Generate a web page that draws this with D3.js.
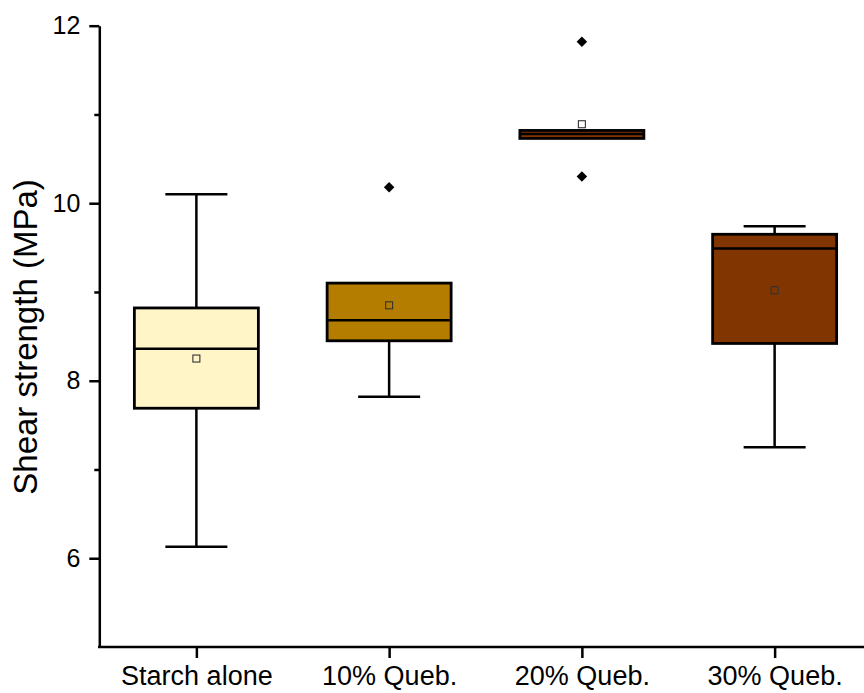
<!DOCTYPE html>
<html>
<head>
<meta charset="utf-8">
<script src="https://cdn.jsdelivr.net/npm/d3@7"></script>
<style>
  body { margin: 0; background: #fff; }
  svg { display: block; font-family: "Liberation Sans", Arial, sans-serif; }
  .axis path, .axis line { stroke: #000; stroke-width: 2.5; }
  .axis text { fill: #000; }
</style>
</head>
<body>
<script>
// box statistics
var categories = ['Starch alone', '10% Queb.', '20% Queb.', '30% Queb.'];
var whiskerLow = [6.13, 7.82, 10.73, 7.25];
var q1 = [7.69, 8.45, 10.73, 8.42];
var median = [8.36, 8.68, 10.78, 9.49];
var q3 = [8.82, 9.10, 10.82, 9.65];
var whiskerHigh = [10.10, 9.10, 10.82, 9.74];
var means = [8.25, 8.85, 10.89, 9.02];
var outliers = [[], [10.18], [11.82, 10.30], []];
var fills = ['#FFF5C7', '#B47D00', '#833500', '#813500'];
var yMajorTicks = [6, 8, 10, 12];
var yMinorTicks = [7, 9, 11];

var svgWidth = 864, svgHeight = 693;
var boxHalf = 62, capHalf = 31;

var svg = d3.select('body').append('svg')
    .attr('width', svgWidth)
    .attr('height', svgHeight);

var xScale = d3.scalePoint()
    .domain(categories)
    .range([100, 871])
    .padding(0.5);

var yScale = d3.scaleLinear()
    .domain([5, 12])
    .range([647, 25.7]);

var rows = categories.map(function(c, i) {
    return {
        cat: c, lo: whiskerLow[i], q1: q1[i], med: median[i], q3: q3[i],
        hi: whiskerHigh[i], mean: means[i], out: outliers[i], fill: fills[i]
    };
});

// whiskers
var g = svg.append('g');
rows.forEach(function(d) {
    var cx = xScale(d.cat);
    if (d.lo < d.q1) {
        g.append('line').attr('x1', cx).attr('x2', cx)
            .attr('y1', yScale(d.lo)).attr('y2', yScale(d.q1))
            .attr('stroke', '#000').attr('stroke-width', 2.5);
        g.append('line').attr('x1', cx - capHalf).attr('x2', cx + capHalf)
            .attr('y1', yScale(d.lo)).attr('y2', yScale(d.lo))
            .attr('stroke', '#000').attr('stroke-width', 2.5);
    }
    if (d.hi > d.q3) {
        g.append('line').attr('x1', cx).attr('x2', cx)
            .attr('y1', yScale(d.hi)).attr('y2', yScale(d.q3))
            .attr('stroke', '#000').attr('stroke-width', 2.5);
        g.append('line').attr('x1', cx - capHalf).attr('x2', cx + capHalf)
            .attr('y1', yScale(d.hi)).attr('y2', yScale(d.hi))
            .attr('stroke', '#000').attr('stroke-width', 2.5);
    }
});

// boxes
svg.selectAll('rect.box')
    .data(rows)
    .enter().append('rect')
    .attr('class', 'box')
    .attr('x', function(d) { return xScale(d.cat) - boxHalf; })
    .attr('width', boxHalf * 2)
    .attr('y', function(d) { return yScale(d.q3); })
    .attr('height', function(d) { return yScale(d.q1) - yScale(d.q3); })
    .attr('fill', function(d) { return d.fill; })
    .attr('stroke', '#000')
    .attr('stroke-width', 2.8);

svg.selectAll('line.median')
    .data(rows)
    .enter().append('line')
    .attr('class', 'median')
    .attr('x1', function(d) { return xScale(d.cat) - boxHalf; })
    .attr('x2', function(d) { return xScale(d.cat) + boxHalf; })
    .attr('y1', function(d) { return yScale(d.med); })
    .attr('y2', function(d) { return yScale(d.med); })
    .attr('stroke', '#000')
    .attr('stroke-width', 2.5);

// mean markers
svg.selectAll('rect.mean')
    .data(rows)
    .enter().append('rect')
    .attr('class', 'mean')
    .attr('x', function(d) { return xScale(d.cat) - 3.5; })
    .attr('y', function(d) { return yScale(d.mean) - 3.5; })
    .attr('width', 7)
    .attr('height', 7)
    .attr('fill', 'none')
    .attr('stroke', '#333')
    .attr('stroke-width', 1.1);

// outliers
var diamond = d3.symbol().type(d3.symbolDiamond2).size(70);
rows.forEach(function(d) {
    svg.selectAll(null)
        .data(d.out)
        .enter().append('path')
        .attr('d', diamond)
        .attr('transform', function(v) { return 'translate(' + xScale(d.cat) + ',' + yScale(v) + ')'; })
        .attr('fill', '#000');
});

// axes
var yAxis = d3.axisLeft(yScale).tickValues(yMajorTicks).tickSize(10).tickSizeOuter(0)
    .tickPadding(9).tickFormat(d3.format('d'));
var yg = svg.append('g')
    .attr('class', 'axis')
    .attr('transform', 'translate(99.3,0)')
    .call(yAxis);
yg.selectAll('text').style('font-size', '25px');

svg.append('g')
    .attr('class', 'axis')
    .attr('transform', 'translate(99.3,0)')
    .call(d3.axisLeft(yScale).tickValues(yMinorTicks).tickSize(5).tickSizeOuter(0).tickFormat(''))
    .select('.domain').remove();

var xAxis = d3.axisBottom(xScale).tickSize(11).tickSizeOuter(0).tickPadding(8);
var xg = svg.append('g')
    .attr('class', 'axis')
    .attr('transform', 'translate(0,647)')
    .call(xAxis);
xg.select('.domain').attr('d', 'M98,0H864');
xg.selectAll('text').style('font-size', '27px');

svg.append('text')
    .attr('transform', 'translate(37,337) rotate(-90)')
    .attr('text-anchor', 'middle')
    .style('font-size', '33px')
    .text('Shear strength (MPa)');
</script>
</body>
</html>
